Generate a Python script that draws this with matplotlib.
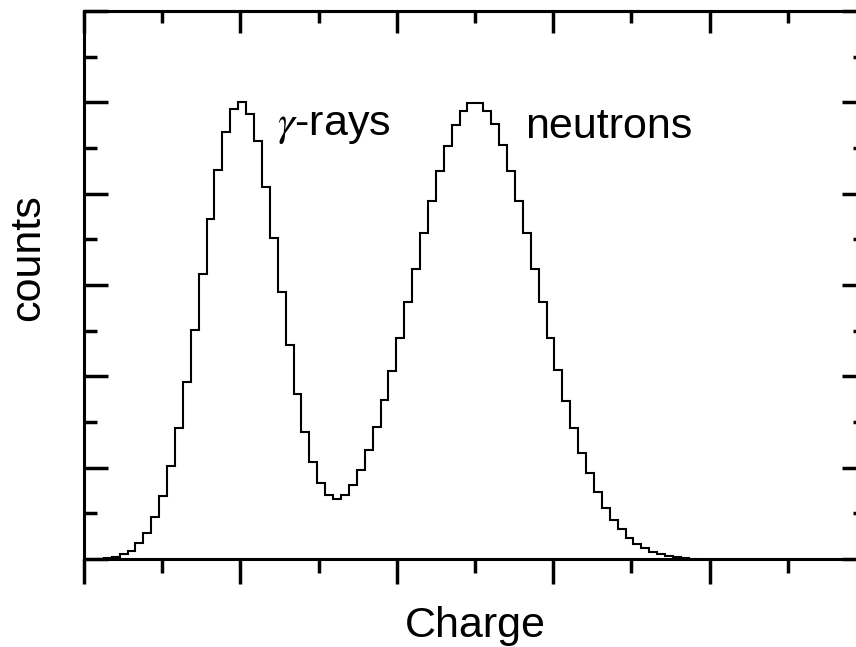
#!/usr/bin/env python3
"""
Charge spectrum: gamma-ray peak and neutron peak (step histogram)
"""

import numpy as np
import matplotlib
matplotlib.use('Agg')
import matplotlib.pyplot as plt

# ===== Data =====
# channel edges in charge units (axis runs 0..10, no tick labels)
BIN_START = 0.152
BIN_WIDTH = 0.1011

counts = [
    0.3, 0.8, 2, 5, 9, 17, 28, 46, 69, 102,
    143, 194, 251, 312, 372, 426, 467, 493, 500, 487,
    458, 407, 352, 292, 234, 181, 139, 106, 83, 70,
    66, 70, 81, 97, 119, 144, 174, 206, 242, 281,
    318, 357, 392, 425, 452, 475, 491, 499, 499, 491,
    476, 453, 425, 392, 357, 318, 281, 242, 207, 173,
    143, 116, 94, 73, 56, 43, 33, 23, 16, 11.5,
    8, 5, 3.3, 1.8, 1, 0.4,
]

x_limits = (0, 10)
y_limits = (0, 600)

peak_labels = [r'$\gamma$-rays', 'neutrons']
peak_label_pos = [(2.47, 464), (5.64, 461)]

plt.rcParams['font.family'] = ['Liberation Sans', 'DejaVu Sans']
plt.rcParams['mathtext.fontset'] = 'stix'

edges = BIN_START + BIN_WIDTH * np.arange(len(counts) + 1)

fig = plt.figure(figsize=(8.56, 6.47), dpi=100)
# right spine sits just outside the picture, like the original
ax = fig.add_axes([84 / 856, 88 / 647, 782 / 856, 548 / 647])

ax.stairs(counts, edges, color='black', linewidth=1.5)

ax.set_xlim(*x_limits)
ax.set_ylim(*y_limits)

# ===== Ticks =====
ax.set_xticks(np.arange(0, 11, 2))
ax.set_xticks(np.arange(1, 10, 2), minor=True)
ax.set_yticks(np.arange(0, 601, 100))
ax.set_yticks(np.arange(50, 600, 100), minor=True)
ax.set_xticklabels([])
ax.set_yticklabels([])

ax.tick_params(axis='y', which='both', direction='in', left=True, right=True, width=2.5)
ax.tick_params(axis='y', which='major', length=17)
ax.tick_params(axis='y', which='minor', length=9.5)
ax.tick_params(axis='x', which='both', direction='out', bottom=True, top=False, width=2.5)
ax.tick_params(axis='x', which='major', length=18)
ax.tick_params(axis='x', which='minor', length=10)

# top axis: inward ticks
top = ax.secondary_xaxis('top')
top.set_xticks(np.arange(0, 11, 2))
top.set_xticks(np.arange(1, 10, 2), minor=True)
top.set_xticklabels([])
top.tick_params(which='both', direction='in', width=2.5)
top.tick_params(which='major', length=16)
top.tick_params(which='minor', length=8.5)
top.spines['top'].set_linewidth(2.2)

for side in ax.spines.values():
    side.set_linewidth(2.2)

# ===== Labels =====
for label, (lx, ly) in zip(peak_labels, peak_label_pos):
    ax.text(lx, ly, label, fontsize=31, ha='left', va='baseline')

fig.text(475 / 856, 10 / 647, 'Charge', fontsize=31, ha='center', va='baseline')
fig.text(28 / 856, 1 - 258 / 647, 'counts', fontsize=31, rotation=90,
         ha='center', va='center')

plt.savefig('out.png', dpi=100)
plt.close()
